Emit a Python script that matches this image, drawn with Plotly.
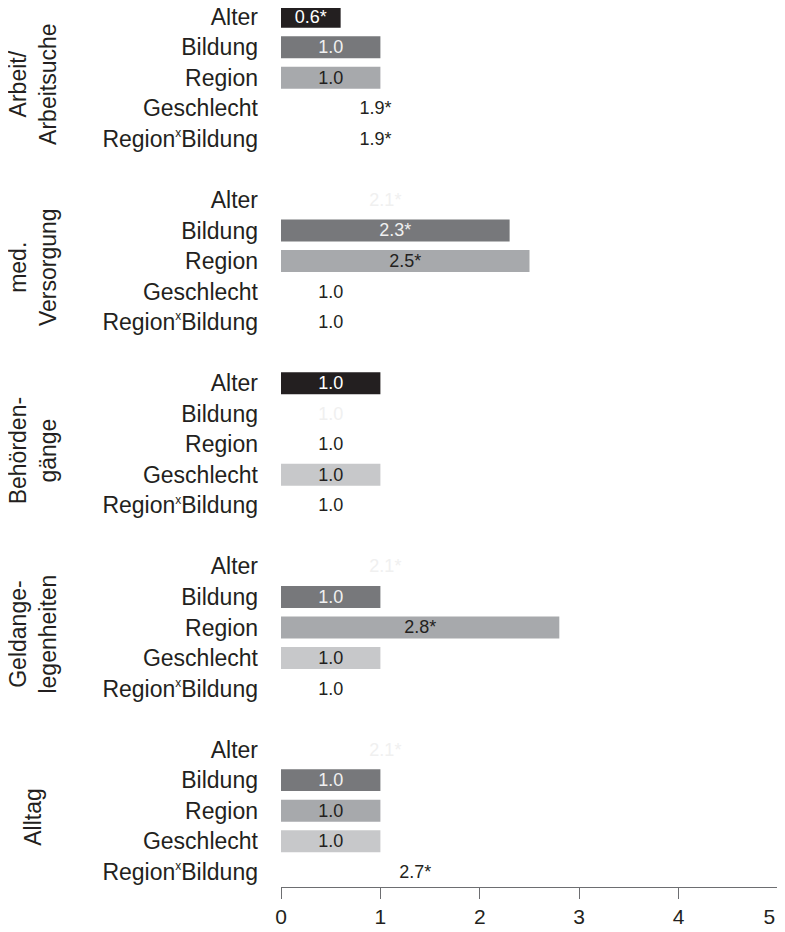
import plotly.graph_objects as go

groups = ["Arbeit/<br>Arbeitsuche", "med.<br>Versorgung", "Behörden-<br>gänge",
          "Geldange-<br>legenheiten", "Alltag"]
factors = ["Alter", "Bildung", "Region", "Geschlecht",
           "Region<sup><span style='font-size:12px'>x</span></sup>Bildung"]

values = [
    [0.6, 1.0, 1.0, 1.9, 1.9],
    [2.1, 2.3, 2.5, 1.0, 1.0],
    [1.0, 1.0, 1.0, 1.0, 1.0],
    [2.1, 1.0, 2.8, 1.0, 1.0],
    [2.1, 1.0, 1.0, 1.0, 2.7],
]
significant = [
    [1, 0, 0, 1, 1],
    [1, 1, 1, 0, 0],
    [0, 0, 0, 0, 0],
    [1, 0, 1, 0, 0],
    [1, 0, 0, 0, 1],
]
bar_shown = [
    [1, 1, 1, 0, 0],
    [0, 1, 1, 0, 0],
    [1, 0, 0, 1, 0],
    [0, 1, 1, 1, 0],
    [0, 1, 1, 1, 0],
]
x_ticks = [0, 1, 2, 3, 4, 5]

# styles
factor_colors = ["#231f20", "#77787b", "#a7a9ac", "#c7c8ca", "#ffffff"]
factor_text_colors = ["#ffffff", "#f0f0f0", "#231f20", "#231f20", "#231f20"]
hidden_text_colors = ["#f0f0f0", "#f0f0f0", "#231f20", "#231f20", "#231f20"]
FONT = "Liberation Sans, Arial, sans-serif"
DARK = "#231f20"

nf = len(factors)
step = nf + 1

ys, xs, texts, colors, tcolors = [], [], [], [], []
tickvals, ticktext = [], []
for g in range(len(groups)):
    for f in range(nf):
        pos = g * step + f
        v = values[g][f]
        ys.append(pos)
        xs.append(v)
        texts.append(f"{v:.1f}" + ("*" if significant[g][f] else ""))
        if bar_shown[g][f]:
            colors.append(factor_colors[f])
            tcolors.append(factor_text_colors[f])
        else:
            colors.append("rgba(255,255,255,0)")
            tcolors.append(hidden_text_colors[f])
        tickvals.append(pos)
        ticktext.append(factors[f])

# last x tick label nudged left so it stays inside the page edge
x_ticktext = [str(t) for t in x_ticks]
x_ticktext[-1] = x_ticktext[-1] + "\u00a0\u00a0\u00a0"

fig = go.Figure(go.Bar(
    x=xs, y=ys, orientation="h", width=0.72,
    marker=dict(color=colors, line=dict(width=0)),
    text=texts, textposition="inside", insidetextanchor="middle",
    textangle=0, constraintext="none",
    textfont=dict(family=FONT, size=18, color=tcolors),
    hoverinfo="skip", cliponaxis=False,
))

last_row = max(ys)
annotations = []
for g, name in enumerate(groups):
    annotations.append(dict(
        text=name, xref="paper", yref="y",
        x=-0.499, y=g * step + (nf - 1) / 2 + 0.2,
        xanchor="center", yanchor="middle", textangle=-90, showarrow=False,
        font=dict(family=FONT, size=23, color=DARK),
    ))

fig.update_layout(
    width=785, height=924,
    margin=dict(l=273, r=15, t=0, b=45, autoexpand=False),
    paper_bgcolor="white", plot_bgcolor="white",
    showlegend=False,
    annotations=annotations,
    xaxis=dict(
        range=[0, 5], tickvals=x_ticks, ticktext=x_ticktext,
        showgrid=False, zeroline=False,
        showline=True, linecolor="#6d6e71", linewidth=1,
        ticks="outside", ticklen=11, tickcolor="#6d6e71", tickwidth=1,
        tickfont=dict(family=FONT, size=21, color=DARK),
        ticklabeloverflow="allow",
        fixedrange=True, automargin=False,
    ),
    yaxis=dict(
        range=[last_row + 0.5, -0.285],
        tickvals=tickvals, ticktext=ticktext,
        showgrid=False, zeroline=False, showline=False,
        ticks="", ticklabelstandoff=22,
        tickfont=dict(family=FONT, size=23, color=DARK),
        ticklabeloverflow="allow",
        fixedrange=True, automargin=False,
    ),
)

fig.write_html("out.html")
